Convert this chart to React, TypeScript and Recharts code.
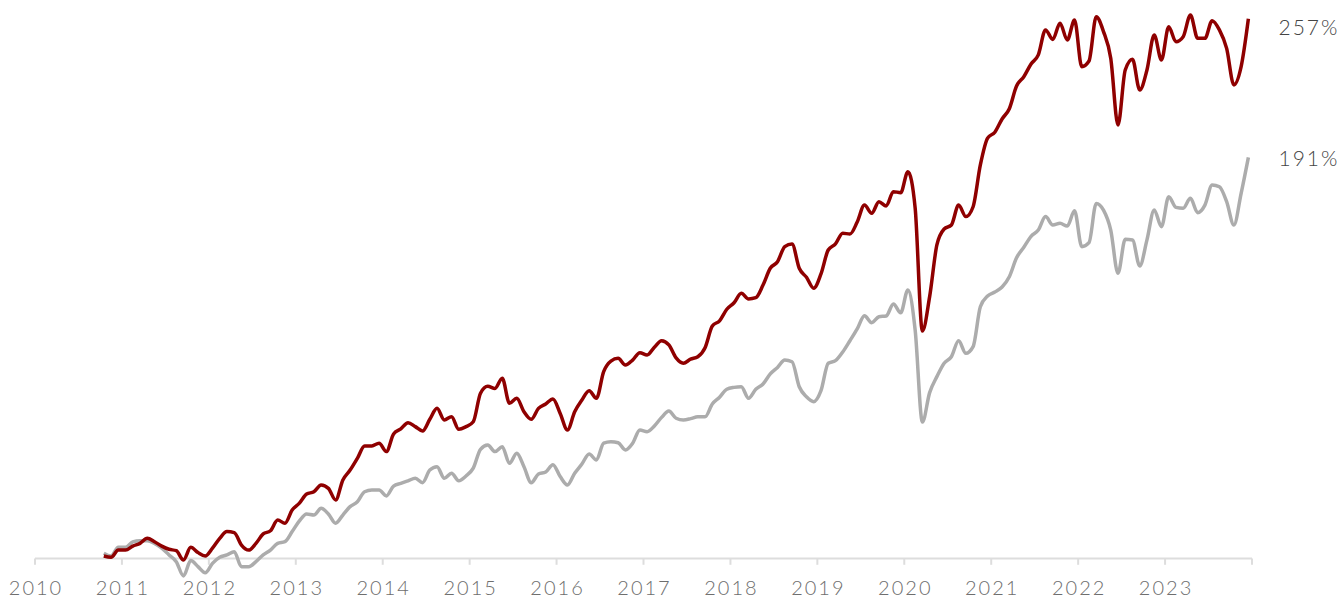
import { LineChart, Line, XAxis, YAxis, ReferenceLine } from "recharts";

// monthly cumulative return (%), October 2010 through December 2023
const startYear = 2010;
const startMonth = 10;

const portfolio = [
  1.2, 0.6, 4.0, 4.0, 5.9, 7.2, 9.6, 8.0, 5.9, 4.4, 3.7, -0.7,
  5.3, 2.8, 1.2, 4.9, 9.6, 12.8, 12.3, 6.4, 4.0, 7.2, 11.7, 13.2,
  18.3, 16.8, 23.1, 26.4, 30.7, 31.8, 35.0, 33.4, 27.9, 37.4, 42.1, 47.7,
  53.6, 53.6, 54.9, 50.9, 59.3, 61.7, 64.7, 62.8, 60.7, 66.3, 71.5, 66.0,
  67.5, 61.5, 62.8, 65.1, 78.7, 82.0, 81.0, 85.8, 73.9, 76.3, 69.9, 66.3,
  71.5, 73.6, 76.0, 69.1, 61.2, 69.9, 75.5, 79.9, 76.3, 89.0, 94.0, 95.3,
  92.1, 94.5, 98.0, 96.9, 100.6, 103.7, 101.7, 95.5, 93.0, 94.9, 96.1, 100.4,
  110.7, 113.2, 118.7, 121.8, 126.3, 123.6, 124.2, 130.2, 138.2, 141.3, 148.5, 149.8,
  138.2, 133.9, 128.7, 135.5, 146.9, 149.8, 154.9, 154.5, 160.2, 168.3, 164.4, 169.9,
  167.9, 174.7, 174.2, 184.2, 166.9, 108.3, 124.7, 149.3, 156.9, 158.8, 168.3, 162.8,
  167.5, 187.4, 200.2, 203.0, 209.3, 214.2, 225.0, 229.4, 235.5, 239.8, 251.7, 247.2,
  254.9, 246.9, 256.4, 234.2, 236.9, 258.0, 250.9, 238.2, 206.4, 232.6, 237.7, 223.1,
  232.6, 249.3, 237.4, 253.2, 246.1, 248.5, 258.8, 247.7, 247.7, 256.1, 251.7, 242.9,
  225.5, 234.2, 257,
];

const benchmark = [
  2.5, 1.2, 5.3, 5.3, 7.9, 8.5, 8.5, 7.2, 4.9, 1.7, -1.5, -8.3,
  -1.0, -3.9, -6.8, -2.3, 0.6, 1.7, 3.2, -3.9, -3.9, -1.5, 1.7, 4.0,
  7.2, 8.0, 12.8, 17.9, 21.2, 20.7, 23.9, 21.2, 16.8, 20.7, 24.7, 27.0,
  31.8, 32.6, 32.6, 29.8, 34.5, 35.8, 37.0, 38.2, 36.1, 42.1, 43.7, 38.2,
  40.6, 37.0, 39.3, 43.0, 52.0, 54.0, 50.9, 53.2, 45.3, 50.1, 43.7, 36.1,
  40.2, 41.2, 44.7, 39.0, 35.0, 40.6, 45.0, 49.8, 46.9, 54.9, 55.6, 55.1,
  51.7, 54.9, 61.2, 60.4, 63.1, 67.2, 70.2, 66.8, 66.0, 66.6, 67.5, 67.5,
  73.6, 76.8, 80.6, 81.5, 81.8, 76.3, 80.6, 83.1, 87.9, 91.0, 94.5, 93.7,
  81.8, 77.0, 74.7, 79.9, 93.0, 94.2, 98.3, 103.7, 109.3, 115.6, 112.3, 115.1,
  115.5, 121.2, 117.0, 127.9, 108.8, 65.0, 79.0, 86.6, 93.0, 96.1, 103.7, 97.7,
  100.9, 119.9, 125.0, 126.9, 129.3, 134.2, 143.2, 148.2, 153.4, 156.4, 162.8, 158.8,
  159.6, 158.3, 165.6, 148.5, 150.4, 169.1, 165.9, 156.4, 135.8, 152.0, 151.7, 139.3,
  151.7, 166.0, 158.0, 172.3, 167.2, 166.8, 171.5, 164.7, 168.3, 177.9, 177.0, 169.9,
  158.8, 173.9, 191,
];

const yearTicks = [2010, 2011, 2012, 2013, 2014, 2015, 2016, 2017, 2018, 2019, 2020, 2021, 2022, 2023, 2024];

const data = portfolio.map((p, i) => ({
  t: startYear + (startMonth - 1 + i + 0.5) / 12,
  portfolio: p,
  benchmark: benchmark[i],
}));

const last = data.length - 1;
const font = "Lato, 'Open Sans', sans-serif";

const YearTick = (props: any) => {
  const { x, y, payload } = props;
  if (payload.value === 2024) return null;
  return (
    <text
      x={x + 1}
      y={y}
      dy={2.5}
      textAnchor="middle"
      dominantBaseline="middle"
      fill="#6e6e6e"
      fontSize={20}
      letterSpacing={2}
      fontFamily={font}
      fontWeight={300}
    >
      {payload.value}
    </text>
  );
};

const endLabel = (dx: number, dy: number) => (props: any) => {
  if (props.index !== last) return null;
  return (
    <text
      x={props.x + dx}
      y={props.y + dy}
      textAnchor="end"
      dominantBaseline="middle"
      fill="#444"
      fontSize={21}
      letterSpacing={2}
      fontFamily={font}
      fontWeight={300}
    >
      {Math.round(props.value)}%
    </text>
  );
};

export default function App() {
  return (
    <div style={{ position: "absolute", left: 0, top: 0, width: 1340, height: 599, background: "#fff" }}>
      <LineChart width={1340} height={599} data={data} margin={{ top: 8.3, right: 88, bottom: 0, left: 35 }}>
        <XAxis
          dataKey="t"
          type="number"
          domain={[2010, 2024]}
          ticks={yearTicks}
          axisLine={false}
          tickLine={false}
          height={19.5}
          tick={<YearTick />}
          interval={0}
        />
        <YAxis hide type="number" domain={[-10, 262]} />
        <ReferenceLine y={0} stroke="#dddddd" strokeWidth={2} />
        {yearTicks.map((yr) => (
          <ReferenceLine
            key={yr}
            segment={[
              { x: yr, y: 0 },
              { x: yr, y: -3 },
            ]}
            stroke="#dddddd"
            strokeWidth={2}
          />
        ))}
        <Line
          type="monotone"
          dataKey="benchmark"
          stroke="#acacac"
          strokeWidth={3.5}
          dot={false}
          isAnimationActive={false}
          label={endLabel(91, 3)}
        />
        <Line
          type="monotone"
          dataKey="portfolio"
          stroke="#8f0000"
          strokeWidth={3.5}
          dot={false}
          isAnimationActive={false}
          label={endLabel(91, 11)}
        />
      </LineChart>
    </div>
  );
}
